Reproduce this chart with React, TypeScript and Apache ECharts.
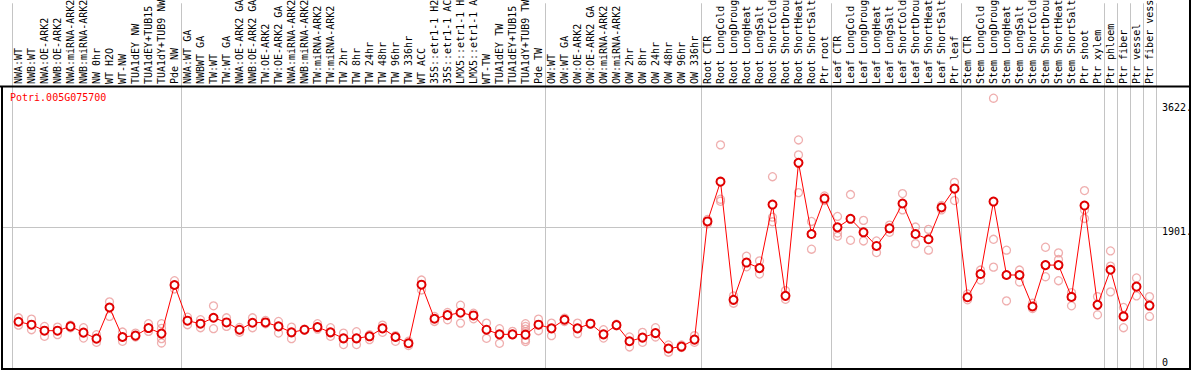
import React, { useEffect, useRef } from "react";
import * as echarts from "echarts";

const geneId = "Potri.005G075700";

const categories = [
  "NWA:WT", "NWB:WT", "NWA:OE-ARK2", "NWB:OE-ARK2", "NWA:miRNA-ARK2", "NWB:miRNA-ARK2",
  "NW 0hr", "WT H2O", "WT-NW", "TUA1dEY NW", "TUA1dEY+TUB15", "TUA1dY+TUB9 NW", "Pde NW",
  "NWA:WT GA", "NWBWT GA", "TW:WT", "TW:WT GA", "NWA:OE-ARK2 GA", "NWB:OE-ARK2 GA",
  "TW:OE-ARK2", "TW:OE-ARK2 GA", "NWA:miRNA-ARK2", "NWB:miRNA-ARK2", "TW:miRNA-ARK2",
  "TW:miRNA-ARK2", "TW 2hr", "TW 8hr", "TW 24hr", "TW 48hr", "TW 96hr", "TW 336hr",
  "WT ACC", "35S::etr1-1 H2", "35S::etr1-1 AC", "LMX5::etr1-1 H", "LMX5::etr1-1 A",
  "WT-TW", "TUA1dEY TW", "TUA1dEY+TUB15", "TUA1dY+TUB9 TW", "Pde TW",
  "OW:WT", "OW:WT GA", "OW:OE-ARK2", "OW:OE-ARK2 GA", "OW:miRNA-ARK2", "OW:miRNA-ARK2",
  "OW 2hr", "OW 8hr", "OW 24hr", "OW 48hr", "OW 96hr", "OW 336hr",
  "Root CTR", "Root LongCold", "Root LongDroug", "Root LongHeat", "Root LongSalt",
  "Root ShortCold", "Root ShortDrou", "Root ShortHeat", "Root ShortSalt", "Ptr root",
  "Leaf CTR", "Leaf LongCold", "Leaf LongDroug", "Leaf LongHeat", "Leaf LongSalt",
  "Leaf ShortCold", "Leaf ShortDrou", "Leaf ShortHeat", "Leaf ShortSalt", "Ptr leaf",
  "Stem CTR", "Stem LongCold", "Stem LongDroug", "Stem LongHeat", "Stem LongSalt",
  "Stem ShortCold", "Stem ShortDrou", "Stem ShortHeat", "Stem ShortSalt", "Ptr shoot",
  "Ptr xylem", "Ptr phloem", "Ptr fiber", "Ptr vessel", "Ptr fiber vess",
];

const means = [
  643, 604, 524, 524, 581, 498, 418, 833, 440, 458, 559, 485, 1133,
  657, 617, 696, 634, 537, 630, 634, 581, 502, 537, 572, 502, 422, 422, 449, 555, 440, 356,
  1137, 683, 731, 763, 727, 537, 475, 475, 471, 604,
  555, 670, 555, 617, 475, 598, 383, 432, 492, 286, 312, 405,
  1980, 2510, 935, 1432, 1358, 2205, 988, 2761, 1812, 2285,
  1901, 2015, 1835, 1653, 1888, 2219, 1812, 1742, 2166, 2417,
  969, 1279, 2245, 1266, 1266, 846, 1398, 1398, 974, 2192, 868,
  1336, 714, 1111, 859,
];

const replicates = [
  [696, 598], [678, 537], [581, 449], [572, 471], [598, 564], [564, 426], [471, 369],
  [908, 714], [506, 383], [492, 440], [617, 515], [617, 555, 418, 360], [1190, 1080],
  [704, 604], [670, 564], [855, 551], [696, 581], [567, 502], [696, 564], [661, 617],
  [647, 492], [572, 418], [545, 530], [617, 545], [564, 449], [492, 339], [511, 339],
  [471, 405], [598, 502], [458, 383], [383, 326], [1199, 1067], [714, 647], [766, 670],
  [863, 625], [757, 683], [625, 422], [551, 356], [515, 471], [617, 581, 545, 511, 405, 379],
  [678, 524],
  [625, 458], [691, 647], [625, 485], [625, 610], [537, 426], [610, 590], [440, 307],
  [502, 369], [564, 440], [334, 237], [334, 299], [458, 369],
  [2007, 1949], [3000, 2276, 2249], [988, 890], [1517, 1375], [1455, 1279],
  [2576, 2037, 1975], [1058, 943], [3066, 2867, 2364], [1980, 1610], [2319, 2258],
  [2047, 1826, 1782], [2338, 1729], [1994, 1720], [1720, 1565], [1931, 1835],
  [2351, 2134], [1905, 1684], [1874, 1597], [2192, 2134], [2501, 2258],
  [1014, 935], [1332, 1199], [3622, 1742, 1371], [1597, 921], [1332, 1173], [890, 819],
  [1636, 1243], [1561, 1472, 1190], [1031, 855], [2391, 2134, 2020], [978, 736],
  [1587, 1385, 1041], [833, 564], [1226, 988], [978, 714],
];

// group separators: a grey line is drawn before each of these category indices
const groupStarts = [0, 13, 41, 53, 63, 73, 84, 85, 86, 87];

const yTickValues = [3622, 1901, 0];
const yTickLabels = ["3622.", "1901.", "0"];
const gridLineValue = 1901;

const MONO = "'DejaVu Sans Mono', 'Liberation Mono', monospace";

export default function App() {
  const ref = useRef<HTMLDivElement>(null);

  useEffect(() => {
    document.body.style.margin = "0";
    const chart = echarts.init(ref.current!, null, { renderer: "svg" });
    const starts = new Set(groupStarts);
    const repData: [number, number][] = [];
    replicates.forEach((arr, i) => arr.forEach((v) => repData.push([i, v])));

    const splitLine = {
      show: true,
      interval: (index: number) => starts.has(index),
      lineStyle: { color: "#c4c4c4", width: 1 },
    };

    chart.setOption({
      animation: false,
      grid: [
        { left: 12, right: 38, top: 0, height: 86 },
        { left: 12, right: 38, top: 86, bottom: -2 },
      ],
      xAxis: [
        {
          type: "category",
          gridIndex: 0,
          data: categories,
          position: "bottom",
          axisLine: { show: false },
          axisTick: { show: false },
          splitLine,
          axisLabel: {
            inside: true,
            rotate: 90,
            interval: 0,
            margin: 2,
            fontFamily: MONO,
            fontSize: 10,
            color: "#000",
            hideOverlap: false,
          },
        },
        {
          type: "category",
          gridIndex: 1,
          data: categories,
          axisLine: { show: false },
          axisTick: { show: false },
          axisLabel: { show: false },
          splitLine,
        },
      ],
      yAxis: [
        { type: "value", gridIndex: 0, show: false },
        {
          type: "value",
          gridIndex: 1,
          min: 0,
          max: 3785,
          position: "right",
          axisLine: { show: false },
          axisTick: { show: false },
          axisLabel: { show: false },
          splitLine: { show: false },
        },
      ],
      series: [
        {
          type: "scatter",
          xAxisIndex: 1,
          yAxisIndex: 1,
          data: repData,
          symbol: "circle",
          symbolSize: 8,
          itemStyle: { color: "rgba(0,0,0,0)", borderColor: "#eb9a9a", borderWidth: 1.3 },
          z: 2,
        },
        {
          type: "line",
          xAxisIndex: 1,
          yAxisIndex: 1,
          data: means,
          symbol: "emptyCircle",
          symbolSize: 8,
          lineStyle: { color: "#ff0000", width: 1 },
          itemStyle: { color: "#e00000", borderWidth: 1.6 },
          z: 3,
        },
      ],
    });

    const yGrid = chart.convertToPixel({ yAxisIndex: 1 }, gridLineValue) as number;
    const labelY = [107.5, Math.round(yGrid) + 4.5, 362];

    chart.setOption({
      graphic: [
        {
          type: "line",
          shape: { x1: 2, y1: Math.round(yGrid) + 0.5, x2: 1163, y2: Math.round(yGrid) + 0.5 },
          style: { stroke: "#c4c4c4", lineWidth: 1 },
          z: 1,
        },
        { type: "line", shape: { x1: 0, y1: 86.5, x2: 1190, y2: 86.5 }, style: { stroke: "#000", lineWidth: 2 }, z: 10 },
        { type: "line", shape: { x1: 2, y1: 86, x2: 2, y2: 370 }, style: { stroke: "#000", lineWidth: 2 }, z: 10 },
        { type: "line", shape: { x1: 2, y1: 369, x2: 1191, y2: 369 }, style: { stroke: "#000", lineWidth: 2 }, z: 10 },
        { type: "line", shape: { x1: 1190, y1: 0, x2: 1190, y2: 370 }, style: { stroke: "#000", lineWidth: 2 }, z: 10 },
        {
          type: "text",
          x: 10,
          y: 97.5,
          style: { text: geneId, fill: "#ff0000", font: `10px ${MONO}`, textVerticalAlign: "middle" },
          z: 10,
        },
        ...yTickLabels.map((t, k) => ({
          type: "text",
          x: 1162,
          y: labelY[k],
          style: { text: t, fill: "#000", font: `10px ${MONO}`, textVerticalAlign: "middle" },
          z: 10,
        })),
      ],
    });

    return () => chart.dispose();
  }, []);

  return <div ref={ref} style={{ width: 1194, height: 370 }} />;
}
